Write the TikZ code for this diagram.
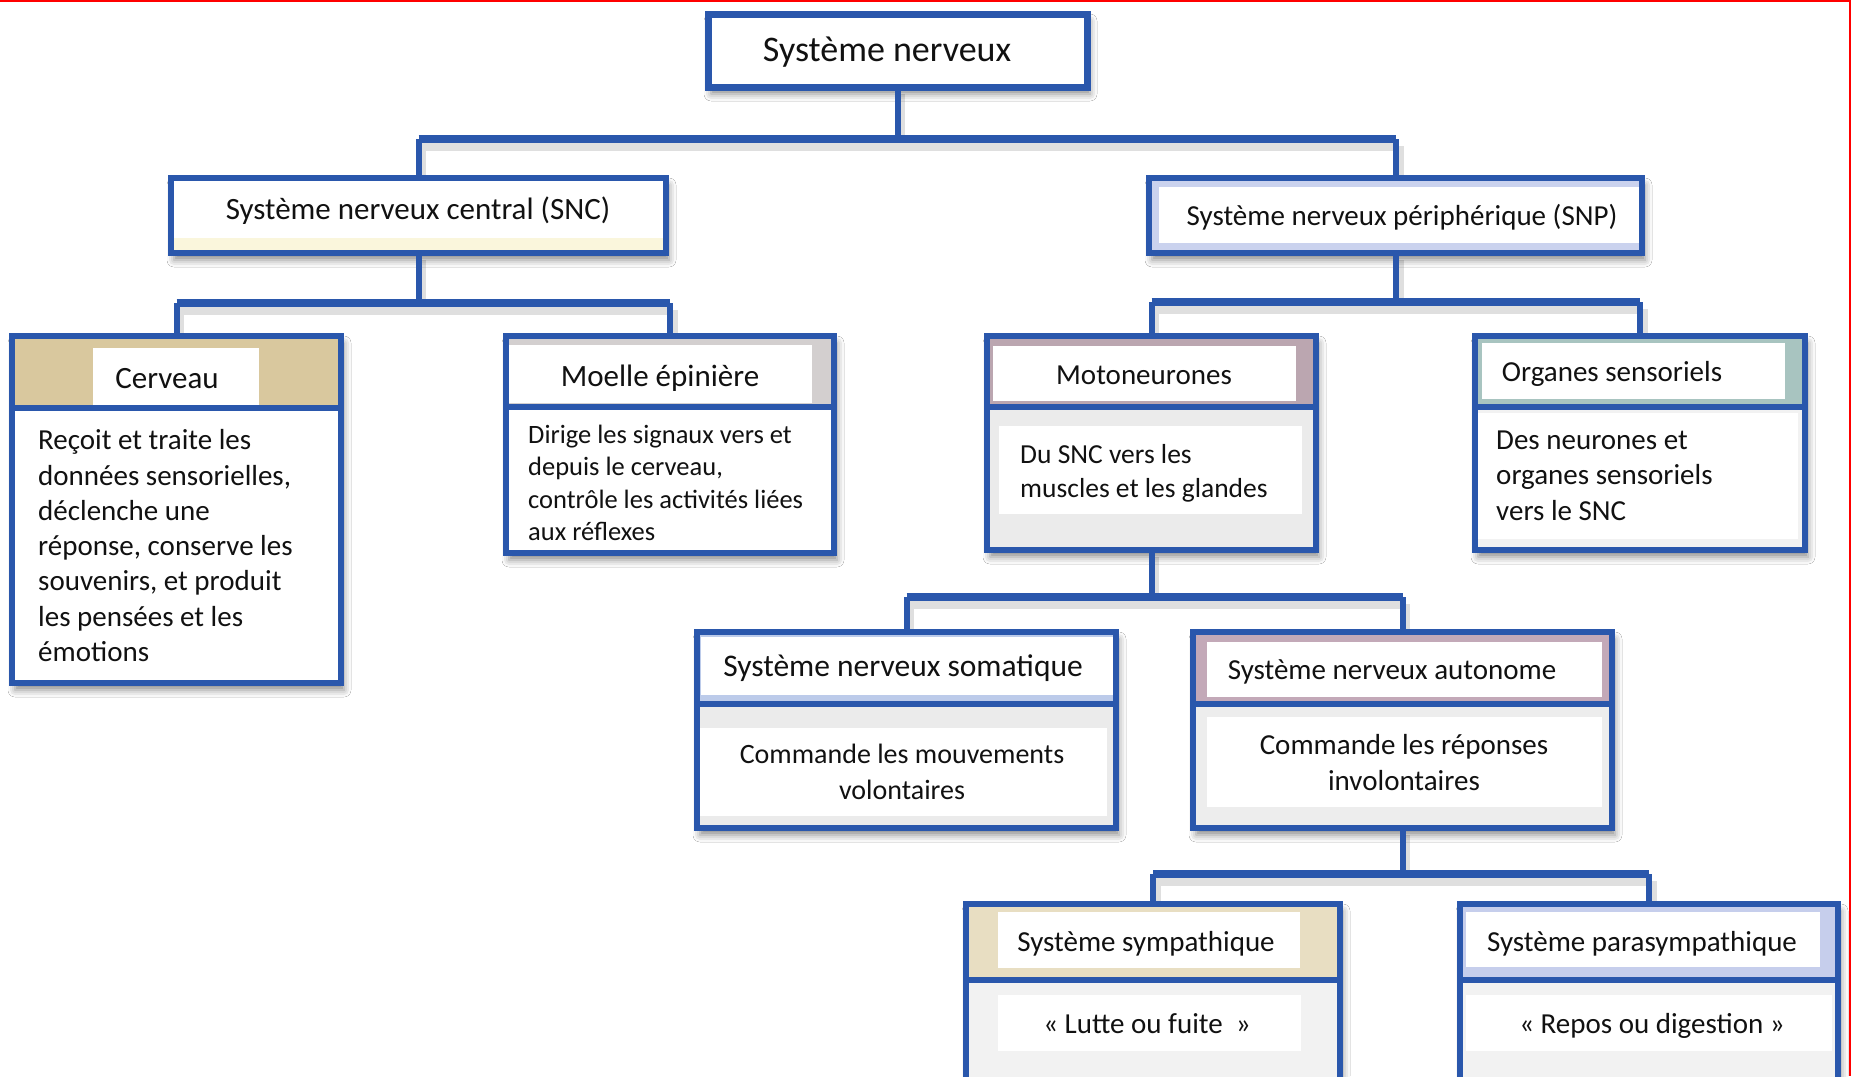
\documentclass[tikz,border=0pt]{standalone}
\usepackage{fontspec}
\setmainfont{Carlito}
\usetikzlibrary{shadows.blur}
\definecolor{bordblue}{HTML}{2A57AC}
\definecolor{tanhead}{HTML}{D9C89E}
\definecolor{grayhead}{HTML}{D3CFCF}
\definecolor{mauvehead}{HTML}{BBA6B0}
\definecolor{tealhead}{HTML}{A8C4C0}
\definecolor{mauvetwo}{HTML}{C3A9B8}
\definecolor{beigehead}{HTML}{E8DEC2}
\definecolor{lavhead}{HTML}{C6CEEC}
\definecolor{paleyellow}{HTML}{FAF6DC}
\definecolor{snplav}{HTML}{CAD2EE}
\definecolor{somablue}{HTML}{BCCBEA}
\definecolor{txt}{HTML}{111111}
\tikzset{
  boxbg/.style={fill=#1, draw=none, inner sep=0pt, outer sep=0pt, anchor=north west,
    blur shadow={shadow xshift=3pt, shadow yshift=-7pt, shadow blur radius=7pt, shadow opacity=45}},
  frame/.style={draw=bordblue, line width=6pt, line join=miter},
  conn/.style={draw=bordblue, line width=6pt},
  bus/.style={draw=bordblue, line width=7.5pt},
  connshadow/.style={draw=black!35, line width=9pt, opacity=0.35, transform canvas={shift={(3pt,-7pt)}}},
  lbl/.style={anchor=base, inner sep=0pt, text=txt, font={\fontsize{#1}{#1}\selectfont}},
  body/.style={anchor=base west, inner sep=0pt, text=txt, align=left},
  cbody/.style={anchor=base, inner sep=0pt, text=txt, align=center},
}
\begin{document}
\begin{tikzpicture}[x=1pt,y=-1pt]
\useasboundingbox (0,0) rectangle (1851,1076);
\clip (0,0) rectangle (1851,1076);
\fill[white] (0,0) rectangle (1851,1076);

% ---------- connector shadows ----------
\draw[connshadow] (897,87) -- (897,139) (418,139) -- (1396,139) (418,139) -- (418,178) (1396,139) -- (1396,178);
\draw[connshadow] (418,253) -- (418,303) (176,303) -- (670,303) (176,303) -- (176,336) (670,303) -- (670,336);
\draw[connshadow] (1396,253) -- (1396,302) (1151,302) -- (1640,302) (1151,302) -- (1151,336) (1640,302) -- (1640,336);
\draw[connshadow] (1151,550) -- (1151,597) (906,597) -- (1402,597) (906,597) -- (906,632) (1402,597) -- (1402,632);
\draw[connshadow] (1402,828) -- (1402,874) (1153,874) -- (1649,874) (1153,874) -- (1153,904) (1649,874) -- (1649,904);

% ---------- Système nerveux ----------
\node[boxbg=white, minimum width=379pt, minimum height=73pt] (top) at (708,14) {};
\draw[frame, line width=7pt] (top.north west) rectangle (top.south east);
\node[lbl=36] (toplbl) at (887,61) {Système nerveux};

% ---------- SNC ----------
\node[boxbg=white, minimum width=495pt, minimum height=75pt] (snc) at (171,178) {};
\fill[paleyellow] (snc.west |- 0,238) rectangle (snc.south east);
\draw[frame] (snc.north west) rectangle (snc.south east);
\node[lbl=31] (snclbl) at (418,219) {Système nerveux central (SNC)};

% ---------- SNP ----------
\node[boxbg=snplav, minimum width=493pt, minimum height=75pt] (snp) at (1149,178) {};
\fill[white] (1159,187) rectangle (1643,243);
\draw[frame] (snp.north west) rectangle (snp.south east);
\node[lbl=29] (snplbl) at (1402,225) {Système nerveux périphérique (SNP)};

% ---------- Cerveau ----------
\node[boxbg=white, minimum width=329pt, minimum height=347pt] (cerv) at (12,336) {};
\fill[tanhead] (cerv.north west) rectangle (cerv.east |- 0,408);
\fill[white] (93,348) rectangle (259,405);
\draw[frame] (cerv.north west) rectangle (cerv.south east);
\draw[frame] (cerv.west |- 0,408) -- (cerv.east |- 0,408);
\node[lbl=31] (cervlbl) at (167,388) {Cerveau};
\node[body, font={\fontsize{29}{35.3}\selectfont}] (cervtxt) at (38,661.5)
  {Reçoit et traite les\\données sensorielles,\\déclenche une\\réponse, conserve les\\souvenirs, et produit\\les pensées et les\\émotions};

% ---------- Moelle épinière ----------
\node[boxbg=white, minimum width=328pt, minimum height=217pt] (moel) at (506,336) {};
\fill[grayhead] (moel.north west) rectangle (moel.east |- 0,407);
\fill[white] (509,345) rectangle (812,403);
\draw[frame] (moel.north west) rectangle (moel.south east);
\draw[frame] (moel.west |- 0,407) -- (moel.east |- 0,407);
\node[lbl=31] (moellbl) at (660,386) {Moelle épinière};
\node[body, font={\fontsize{26.5}{32.4}\selectfont}] (moeltxt) at (528,540.5)
  {Dirige les signaux vers et\\depuis le cerveau,\\contrôle les activités liées\\aux réflexes};

% ---------- Motoneurones ----------
\node[boxbg=black!8, minimum width=329pt, minimum height=214pt] (moto) at (987,336) {};
\fill[mauvehead] (moto.north west) rectangle (moto.east |- 0,407);
\fill[white] (993,346) rectangle (1296,401);
\fill[white] (999,426) rectangle (1302,514);
\draw[frame] (moto.north west) rectangle (moto.south east);
\draw[frame] (moto.west |- 0,407) -- (moto.east |- 0,407);
\node[lbl=29] (motolbl) at (1144,384) {Motoneurones};
\node[body, font={\fontsize{27.5}{34}\selectfont}] (mototxt) at (1020,497)
  {Du SNC vers les\\muscles et les glandes};

% ---------- Organes sensoriels ----------
\node[boxbg=black!5, minimum width=330pt, minimum height=214pt] (orga) at (1475,336) {};
\fill[tealhead] (orga.north west) rectangle (orga.east |- 0,407);
\fill[white] (1482,343) rectangle (1785,399);
\fill[white] (1478,413) rectangle (1798,539);
\draw[frame] (orga.north west) rectangle (orga.south east);
\draw[frame] (orga.west |- 0,407) -- (orga.east |- 0,407);
\node[lbl=29] (orgalbl) at (1612,381) {Organes sensoriels};
\node[body, font={\fontsize{29}{35.5}\selectfont}] (orgatxt) at (1496,520)
  {Des neurones et\\organes sensoriels\\vers le SNC};

% ---------- Somatique ----------
\node[boxbg=black!8, minimum width=419pt, minimum height=196pt] (soma) at (697,632) {};
\fill[somablue] (soma.north west) rectangle (soma.east |- 0,704);
\fill[white] (701,637) rectangle (1115,695);
\fill[white] (700,728) rectangle (1107,816);
\draw[frame] (soma.north west) rectangle (soma.south east);
\draw[frame] (soma.west |- 0,704) -- (soma.east |- 0,704);
\node[lbl=31.5] (somalbl) at (903,676) {Système nerveux somatique};
\node[cbody, font={\fontsize{28}{35.5}\selectfont}] (somatxt) at (902,799)
  {Commande les mouvements\\volontaires};

% ---------- Autonome ----------
\node[boxbg=black!7, minimum width=419pt, minimum height=196pt] (auto) at (1193,632) {};
\fill[mauvetwo] (auto.north west) rectangle (auto.east |- 0,704);
\fill[white] (1207,642) rectangle (1602,697);
\fill[white] (1207,717) rectangle (1602,807);
\draw[frame] (auto.north west) rectangle (auto.south east);
\draw[frame] (auto.west |- 0,704) -- (auto.east |- 0,704);
\node[lbl=29] (autolbl) at (1392,679) {Système nerveux autonome};
\node[cbody, font={\fontsize{29}{35.5}\selectfont}] (autotxt) at (1404,790)
  {Commande les réponses\\involontaires};

% ---------- Sympathique ----------
\node[boxbg=black!5, minimum width=374pt, minimum height=191pt] (symp) at (966,904) {};
\fill[beigehead] (symp.north west) rectangle (symp.east |- 0,980);
\fill[white] (998,912) rectangle (1300,968);
\fill[white] (998,995) rectangle (1301,1051);
\draw[frame] (symp.north west) rectangle (symp.south east);
\draw[frame] (symp.west |- 0,980) -- (symp.east |- 0,980);
\node[lbl=29] (symplbl) at (1146,951) {Système sympathique};
\node[lbl=29] (symptxt) at (1147,1033) {«\ Lutte ou fuite\ \ »};

% ---------- Parasympathique ----------
\node[boxbg=black!5, minimum width=378pt, minimum height=191pt] (para) at (1460,904) {};
\fill[lavhead] (para.north west) rectangle (para.east |- 0,980);
\fill[white] (1466,912) rectangle (1820,967);
\fill[white] (1466,995) rectangle (1832,1051);
\draw[frame] (para.north west) rectangle (para.south east);
\draw[frame] (para.west |- 0,980) -- (para.east |- 0,980);
\node[lbl=29] (paralbl) at (1642,951) {Système parasympathique};
\node[lbl=29] (paratxt) at (1652,1033) {«\ Repos ou digestion\ »};

% ---------- connectors ----------
\draw[conn] (top.south) -- (top.south |- 0,139);
\draw[bus] (snc.north |- 0,139) -- (snp.north |- 0,139);
\draw[conn] (snc.north |- 0,139) -- (snc.north);
\draw[conn] (snp.north |- 0,139) -- (snp.north);

\draw[conn] (snc.south) -- (snc.south |- 0,303);
\draw[bus] (cerv.north |- 0,303) -- (moel.north |- 0,303);
\draw[conn] (cerv.north |- 0,303) -- (cerv.north);
\draw[conn] (moel.north |- 0,303) -- (moel.north);

\draw[conn] (snp.south) -- (snp.south |- 0,302);
\draw[bus] (moto.north |- 0,302) -- (orga.north |- 0,302);
\draw[conn] (moto.north |- 0,302) -- (moto.north);
\draw[conn] (orga.north |- 0,302) -- (orga.north);

\draw[conn] (moto.south) -- (moto.south |- 0,597);
\draw[bus] (soma.north |- 0,597) -- (auto.north |- 0,597);
\draw[conn] (soma.north |- 0,597) -- (soma.north);
\draw[conn] (auto.north |- 0,597) -- (auto.north);

\draw[conn] (auto.south) -- (auto.south |- 0,874);
\draw[bus] (symp.north |- 0,874) -- (para.north |- 0,874);
\draw[conn] (symp.north |- 0,874) -- (symp.north);
\draw[conn] (para.north |- 0,874) -- (para.north);

% ---------- red edge ----------
\draw[red, line width=2.5pt] (0,1.2) -- (1851,1.2);
\draw[red, line width=2.5pt] (1849.8,0) -- (1849.8,1076);
\end{tikzpicture}
\end{document}
